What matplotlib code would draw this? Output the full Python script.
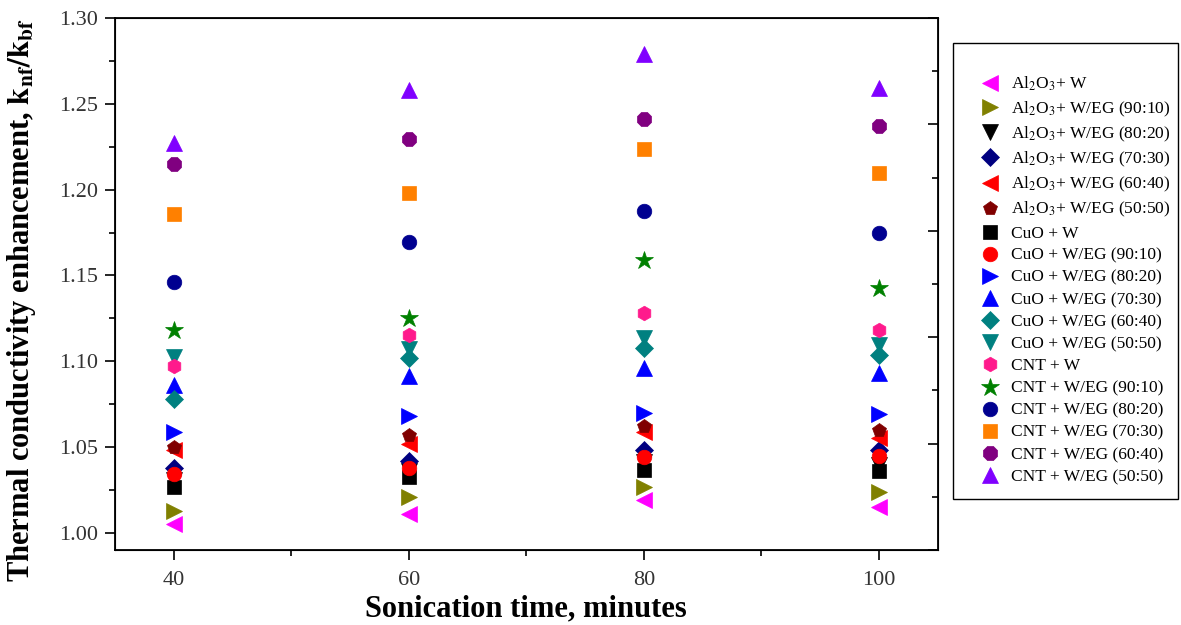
import matplotlib
matplotlib.use("Agg")
import matplotlib.pyplot as plt
from matplotlib.ticker import MultipleLocator
from matplotlib.patches import Rectangle

plt.rcParams['font.family'] = ['Liberation Serif', 'DejaVu Serif']
plt.rcParams['mathtext.fontset'] = 'stix'

# sonication time (minutes)
tempo = [40, 60, 80, 100]

# k_nf / k_bf
al_w = [1.005, 1.011, 1.019, 1.015]
al_90 = [1.013, 1.021, 1.027, 1.024]
al_80 = [1.031, 1.036, 1.041, 1.0395]
al_70 = [1.038, 1.042, 1.048, 1.048]
al_60 = [1.048, 1.052, 1.059, 1.055]
al_50 = [1.050, 1.057, 1.062, 1.060]
cuo_w = [1.027, 1.0325, 1.0366, 1.036]
cuo_90 = [1.034, 1.038, 1.044, 1.045]
cuo_80 = [1.0587, 1.068, 1.070, 1.0695]
cuo_70 = [1.086, 1.0914, 1.096, 1.093]
cuo_60 = [1.078, 1.102, 1.1077, 1.1036]
cuo_50 = [1.1025, 1.107, 1.1135, 1.1094]
cnt_w = [1.097, 1.115, 1.128, 1.118]
cnt_90 = [1.118, 1.125, 1.159, 1.1427]
cnt_80 = [1.146, 1.1695, 1.1875, 1.1747]
cnt_70 = [1.186, 1.198, 1.2237, 1.2097]
cnt_60 = [1.215, 1.2295, 1.241, 1.237]
cnt_50 = [1.227, 1.258, 1.279, 1.259]

series = [
    ("Al$_2$O$_3$+ W", al_w, "<", "#FF00FF"),
    ("Al$_2$O$_3$+ W/EG (90:10)", al_90, ">", "#808000"),
    ("Al$_2$O$_3$+ W/EG (80:20)", al_80, "v", "black"),
    ("Al$_2$O$_3$+ W/EG (70:30)", al_70, "D", "#000080"),
    ("Al$_2$O$_3$+ W/EG (60:40)", al_60, "<", "red"),
    ("Al$_2$O$_3$+ W/EG (50:50)", al_50, "p", "#800000"),
    ("CuO + W", cuo_w, "s", "black"),
    ("CuO + W/EG (90:10)", cuo_90, "o", "red"),
    ("CuO + W/EG (80:20)", cuo_80, ">", "blue"),
    ("CuO + W/EG (70:30)", cuo_70, "^", "blue"),
    ("CuO + W/EG (60:40)", cuo_60, "D", "#008080"),
    ("CuO + W/EG (50:50)", cuo_50, "v", "#008080"),
    ("CNT + W", cnt_w, "h", "#FF1A8C"),
    ("CNT + W/EG (90:10)", cnt_90, "*", "#008000"),
    ("CNT + W/EG (80:20)", cnt_80, "o", "#000090"),
    ("CNT + W/EG (70:30)", cnt_70, "s", "#FF8000"),
    ("CNT + W/EG (60:40)", cnt_60, "8", "#800080"),
    ("CNT + W/EG (50:50)", cnt_50, "^", "#8000FF"),
]

fig = plt.figure(figsize=(11.81, 6.25), dpi=100)
ax = fig.add_axes([0.0974, 0.12, 0.6966, 0.8512])

for nome, vals, mk, cor in series:
    ms = 12
    if mk == "D":
        ms = 9.5
    if mk in ("s", "o", "8", "h", "p"):
        ms = 10.5
    if mk == "*":
        ms = 13.5
    ax.plot(tempo, vals, linestyle="none", marker=mk, color=cor,
            markersize=ms, markeredgewidth=0.5, label=nome)

ax.set_xlim(35, 105)
ax.set_ylim(0.99, 1.30)
ax.xaxis.set_major_locator(MultipleLocator(20))
ax.xaxis.set_minor_locator(MultipleLocator(10))
ax.yaxis.set_major_locator(MultipleLocator(0.05))
ax.yaxis.set_minor_locator(MultipleLocator(0.025))
ax.set_xticks([40, 60, 80, 100])
ax.yaxis.set_major_formatter(matplotlib.ticker.FormatStrFormatter("%.2f"))
ax.tick_params(which="major", direction="out", length=7, width=1.2,
               labelsize=16, labelcolor="#333333")
ax.tick_params(axis="y", which="major", pad=5)
ax.tick_params(axis="x", which="major", pad=8)
ax.tick_params(which="minor", direction="out", length=4, width=1.2)
for s in ax.spines.values():
    s.set_linewidth(1.3)

# right axis ticks (inward, no labels)
ax2 = ax.twinx()
ax2.set_ylim(0, 1)
ax2.yaxis.set_major_locator(MultipleLocator(0.2))
ax2.yaxis.set_minor_locator(MultipleLocator(0.1))
ax2.tick_params(which="major", direction="in", length=7, width=1.2, labelright=False)
ax2.tick_params(which="minor", direction="in", length=4, width=1.2)

ax.set_xlabel("Sonication time, minutes", fontsize=22, fontweight="bold", labelpad=3)
ax.set_ylabel("Thermal conductivity enhancement, $\\mathbf{k_{nf}/k_{bf}}$",
              fontsize=22, fontweight="bold")
ax.yaxis.set_label_coords(-0.0936, 0.47)

# legend box drawn by hand, entries placed inside it
fig.patches.append(Rectangle((953 / 1181, 1 - 499 / 625), 225 / 1181, 456 / 625,
                             transform=fig.transFigure, fill=False,
                             edgecolor="black", linewidth=1.0))
handles, labels = ax.get_legend_handles_labels()
leg = fig.legend(handles, labels, loc="upper left", bbox_to_anchor=(979.5 / 1181, 1 - 75 / 625),
                 frameon=False, fontsize=12.5, labelspacing=0.345, handletextpad=0.6,
                 borderpad=0, borderaxespad=0, handlelength=1.2, numpoints=1)

fig.savefig("out.png", dpi=100)
